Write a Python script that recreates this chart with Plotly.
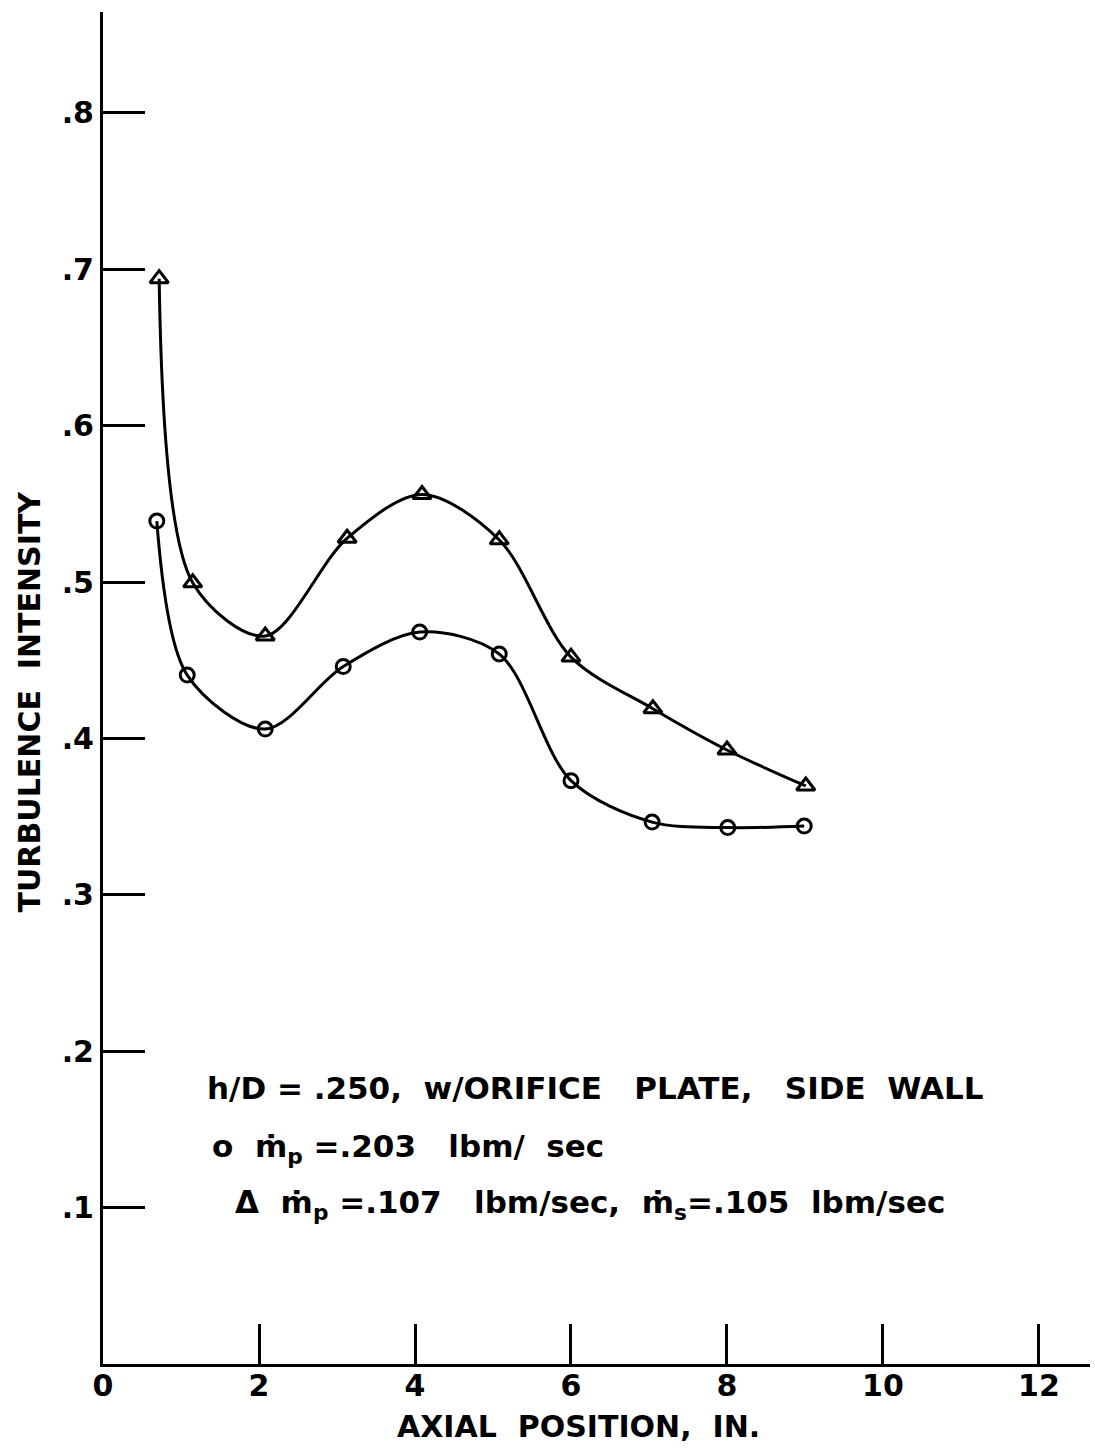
import plotly.graph_objects as go

# Axial station positions (in.) and turbulence intensity for each flow case
x_primary = [0.69, 1.08, 2.08, 3.08, 4.06, 5.08, 6.0, 7.04, 8.01, 8.99]
ti_primary = [0.539, 0.4405, 0.406, 0.446, 0.468, 0.454, 0.373, 0.3465, 0.343, 0.344]

x_secondary = [0.72, 1.15, 2.08, 3.13, 4.09, 5.08, 6.0, 7.05, 8.0, 9.01]
ti_secondary = [0.694, 0.4995, 0.4655, 0.528, 0.556, 0.527, 0.452, 0.419, 0.3926, 0.3696]

x_tick_vals = [0, 2, 4, 6, 8, 10, 12]
x_tick_text = ["0", "2", "4", "6", "8", "10", "12"]
y_tick_vals = [0.1, 0.2, 0.3, 0.4, 0.5, 0.6, 0.7, 0.8]
y_tick_text = [".1", ".2", ".3", ".4", ".5", ".6", ".7", ".8"]

FONT = "DejaVu Sans"
INK = "black"

fig = go.Figure()

fig.add_trace(go.Scatter(
    x=x_primary, y=ti_primary, mode="lines+markers",
    line=dict(color=INK, width=3, shape="spline", smoothing=0.9),
    marker=dict(symbol="circle-open", size=14, color=INK, line=dict(width=3, color=INK)),
    showlegend=False,
))
fig.add_trace(go.Scatter(
    x=x_secondary, y=ti_secondary, mode="lines+markers",
    line=dict(color=INK, width=3, shape="spline", smoothing=0.9),
    marker=dict(symbol="triangle-up-open", size=16, color=INK, line=dict(width=3, color=INK)),
    showlegend=False,
))

fig.update_xaxes(
    range=[0, 12.654], tickvals=x_tick_vals, ticktext=x_tick_text,
    ticks="inside", ticklen=40, tickwidth=3, tickcolor=INK,
    showline=True, linewidth=3, linecolor=INK,
    showgrid=False, zeroline=False, ticklabelstandoff=-7,
    tickfont=dict(family=FONT, size=30, color=INK, weight="bold"),
)
fig.update_yaxes(
    range=[0, 0.8645], tickvals=y_tick_vals, ticktext=y_tick_text,
    ticks="inside", ticklen=42, tickwidth=3, tickcolor=INK,
    showline=True, linewidth=3, linecolor=INK,
    showgrid=False, zeroline=False,
    tickfont=dict(family=FONT, size=30, color=INK, weight="bold"),
)

label_font = dict(family=FONT, size=30, color=INK, weight="bold")
note_font = dict(family=FONT, size=31, color=INK, weight="bold")

annotations = [
    dict(text="AXIAL  POSITION,  IN.", x=0.482, y=-0.046, xref="paper", yref="paper",
         xanchor="center", yanchor="middle", showarrow=False, font=label_font),
    dict(text="TURBULENCE  INTENSITY", x=-0.074, y=0.49, xref="paper", yref="paper",
         xanchor="center", yanchor="middle", textangle=-90, showarrow=False, font=label_font),
    dict(text="h/D = .250,  w/ORIFICE   PLATE,   SIDE  WALL", x=1.31, y=0.1765, xref="x", yref="y",
         xanchor="left", yanchor="middle", showarrow=False, font=note_font),
    dict(text="o  ṁ<sub>p</sub> =.203   lbm/  sec", x=1.37, y=0.1375, xref="x", yref="y",
         xanchor="left", yanchor="middle", showarrow=False, font=note_font),
    dict(text="Δ  ṁ<sub>p</sub> =.107   lbm/sec,  ṁ<sub>s</sub>=.105  lbm/sec", x=1.67, y=0.102,
         xref="x", yref="y", xanchor="left", yanchor="middle", showarrow=False, font=note_font),
]

fig.update_layout(
    width=1095, height=1454,
    margin=dict(l=103, r=5, t=12, b=90),
    paper_bgcolor="white", plot_bgcolor="white",
    font=dict(family=FONT, color=INK),
    annotations=annotations,
)

fig.write_html("out.html")
